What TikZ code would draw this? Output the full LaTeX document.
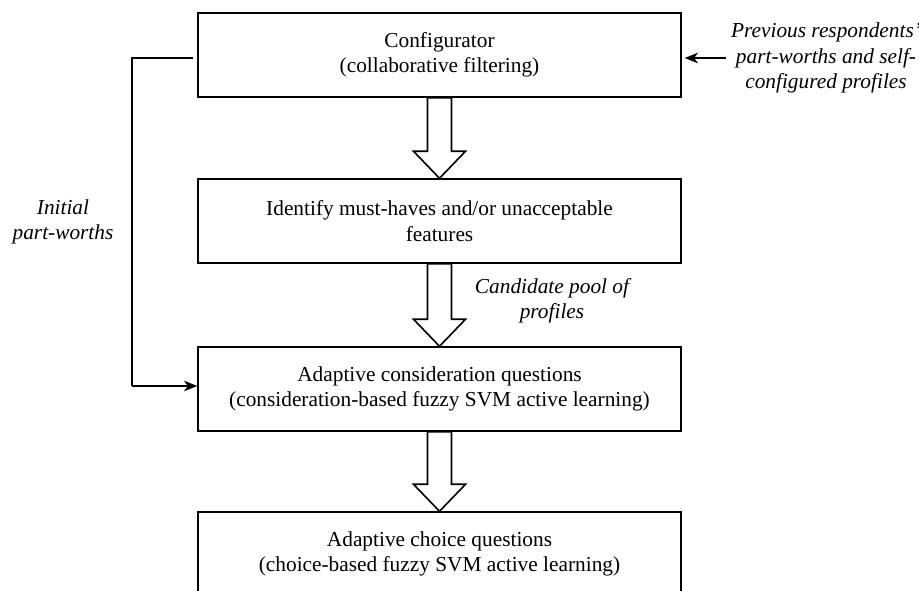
\documentclass[tikz,border=0pt]{standalone}
\usepackage{fontspec}
\setmainfont{Liberation Serif}
\usetikzlibrary{calc,arrows.meta}
\tikzset{
  stagebox/.style={draw=black, line width=1.1pt, fill=white, minimum width=362.25pt, minimum height=63pt, inner sep=0pt, align=center, font=\fontsize{16}{19}\selectfont},
  lbl/.style={align=center, inner sep=0pt, font=\fontsize{16}{19}\selectfont\itshape},
  conn/.style={draw=black, line width=0.9pt},
  tip/.style={-{Stealth[length=10pt,width=8pt,inset=3pt]}},
  fat/.style={draw=black, line width=1.2pt, fill=white, line join=miter}
}
\newcommand\fatarrow[2]{%
  \draw[fat] ($(#1.south)+(-12,0)$) -- ($(#2.north)+(-12,27)$) -- ($(#2.north)+(-26,27)$) -- (#2.north) -- ($(#2.north)+(26,27)$) -- ($(#2.north)+(12,27)$) -- ($(#1.south)+(12,0)$) -- cycle;}
\begin{document}
\begin{tikzpicture}[x=0.75pt,y=0.75pt]
\clip (0,0) rectangle (919,-591);
\node[stagebox] (b1) at (439.5,-55) {Configurator\\(collaborative filtering)};
\node[stagebox] (b2) at (439.5,-221) {Identify must-haves and/or unacceptable\\features};
\node[stagebox] (b3) at (439.5,-389) {Adaptive consideration questions\\(consideration-based fuzzy SVM active learning)};
\node[stagebox] (b4) at (439.5,-554) {Adaptive choice questions\\(choice-based fuzzy SVM active learning)};
\fatarrow{b1}{b2}
\fatarrow{b2}{b3}
\fatarrow{b3}{b4}
\node[lbl] (lInit) at (63,-222) {Initial\\part-worths};
\node[lbl] (lCand) at (552,-301) {Candidate pool of\\profiles};
\node[lbl] (lPrev) at (826,-58) {Previous respondents'\\part-worths and self-\\configured profiles};
\coordinate (c1) at (132,-58);
\coordinate (c2) at (132,-386);
\coordinate (r1) at (726,-58);
\draw[conn] ($(b1.west |- c1)+(-4,0)$) -- (c1) -- (c2);
\draw[conn,tip] (c2) -- (b3.west |- c2);
\draw[conn,tip] (r1) -- ($(b1.east |- r1)+(3,0)$);
\end{tikzpicture}
\end{document}
